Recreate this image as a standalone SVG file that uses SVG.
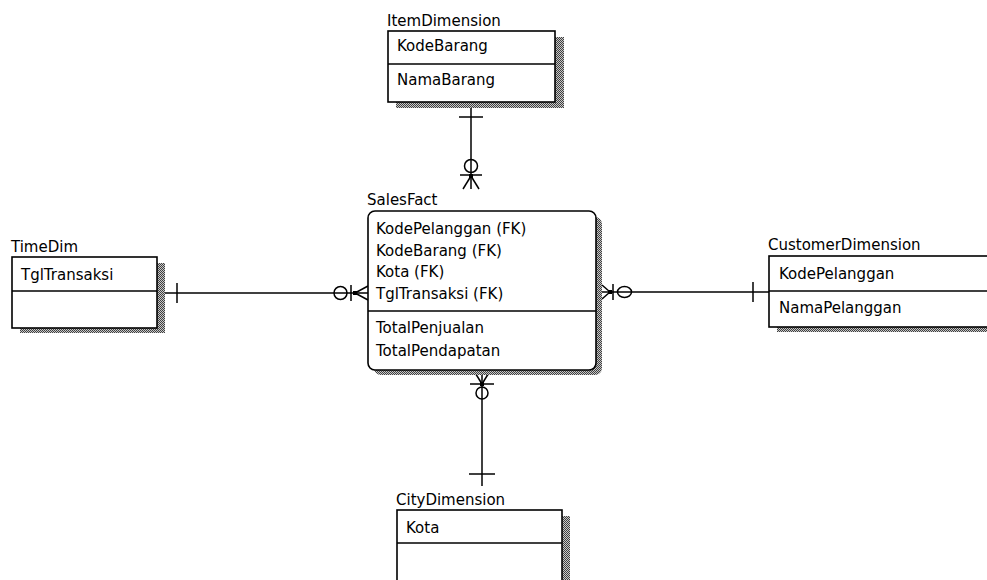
<svg xmlns="http://www.w3.org/2000/svg" width="987" height="580" viewBox="0 0 987 580">
<defs>
<pattern id="hatch" width="2" height="2" patternUnits="userSpaceOnUse">
<rect width="2" height="2" fill="#c8c8c8"/>
<rect width="1" height="1" fill="#404040"/>
<rect x="1" y="1" width="1" height="1" fill="#404040"/>
</pattern>
</defs>
<style>
.bg{fill:#fff}
.box{fill:#fff;stroke:#000;stroke-width:1.6}
.sh{fill:url(#hatch);stroke:none}
.div{stroke:#000;stroke-width:1.6}
.t{font-family:"DejaVu Sans",sans-serif;font-size:15px;fill:#000}
.c{fill:none;stroke:#000;stroke-width:1.5}
.dot{fill:#000}
</style>
<rect class="bg" x="0" y="0" width="987" height="580"/>

<g id="connectors">
<!-- ItemDimension to SalesFact -->
<g id="c-item">
<line class="c" x1="471" y1="102" x2="471" y2="189"/>
<line class="c" x1="459" y1="117" x2="483" y2="117"/>
<circle class="c" cx="471" cy="166" r="6.5"/>
<line class="c" x1="460" y1="175" x2="482" y2="175"/>
<rect class="dot" x="469" y="174" width="4" height="4"/>
<line class="c" x1="471" y1="176" x2="463" y2="189"/>
<line class="c" x1="471" y1="176" x2="479" y2="189"/>
</g>
<!-- TimeDim to SalesFact -->
<g id="c-time">
<line class="c" x1="157" y1="293" x2="368" y2="293"/>
<line class="c" x1="177" y1="283" x2="177" y2="303"/>
<ellipse class="c" cx="340.5" cy="293" rx="6.5" ry="6.5"/>
<line class="c" x1="351" y1="285" x2="351" y2="301"/>
<rect class="dot" x="353" y="291" width="4" height="4"/>
<line class="c" x1="355" y1="293" x2="368" y2="286"/>
<line class="c" x1="355" y1="293" x2="368" y2="300"/>
</g>
<!-- SalesFact to CustomerDimension -->
<g id="c-customer">
<line class="c" x1="602" y1="292" x2="769" y2="292"/>
<line class="c" x1="602" y1="285" x2="610" y2="292"/>
<line class="c" x1="602" y1="299" x2="610" y2="292"/>
<rect class="dot" x="608" y="290" width="4" height="4"/>
<line class="c" x1="613" y1="284" x2="613" y2="300"/>
<ellipse class="c" cx="624.5" cy="292" rx="7" ry="5.5"/>
<line class="c" x1="753" y1="282" x2="753" y2="302"/>
</g>
<!-- SalesFact to CityDimension -->
<g id="c-city">
<line class="c" x1="482" y1="371" x2="482" y2="486"/>
<line class="c" x1="474" y1="371" x2="482" y2="384"/>
<line class="c" x1="490" y1="371" x2="482" y2="384"/>
<rect class="dot" x="480" y="382" width="4" height="4"/>
<line class="c" x1="470" y1="384" x2="494" y2="384"/>
<circle class="c" cx="482" cy="393" r="6"/>
<line class="c" x1="469" y1="474" x2="495" y2="474"/>
</g>
</g>

<g id="ItemDimension">
<rect class="sh" x="396" y="37" width="168" height="71"/>
<rect class="box" x="388" y="31" width="167" height="71"/>
<line class="div" x1="388" y1="64" x2="555" y2="64"/>
<text class="t" x="387" y="26">ItemDimension</text>
<text class="t" x="397" y="51">KodeBarang</text>
<text class="t" x="397" y="85">NamaBarang</text>
</g>

<g id="SalesFact">
<rect class="sh" x="374" y="217" width="228" height="158" rx="7"/>
<rect class="box" x="368" y="211" width="228" height="159" rx="7"/>
<line class="div" x1="368" y1="311" x2="596" y2="311"/>
<text class="t" x="367" y="205">SalesFact</text>
<text class="t" x="376" y="234">KodePelanggan (FK)</text>
<text class="t" x="376" y="256">KodeBarang (FK)</text>
<text class="t" x="376" y="277">Kota (FK)</text>
<text class="t" x="376" y="299">TglTransaksi (FK)</text>
<text class="t" x="376" y="333">TotalPenjualan</text>
<text class="t" x="376" y="356">TotalPendapatan</text>
</g>

<g id="TimeDim">
<rect class="sh" x="20" y="263" width="145" height="70"/>
<rect class="box" x="12" y="257" width="145" height="71"/>
<line class="div" x1="12" y1="291" x2="157" y2="291"/>
<text class="t" x="11" y="252">TimeDim</text>
<text class="t" x="21" y="280">TglTransaksi</text>
</g>

<g id="CustomerDimension">
<rect class="sh" x="777" y="262" width="230" height="70"/>
<rect class="box" x="769" y="256" width="230" height="71"/>
<line class="div" x1="769" y1="291" x2="999" y2="291"/>
<text class="t" x="768" y="250">CustomerDimension</text>
<text class="t" x="779" y="279">KodePelanggan</text>
<text class="t" x="779" y="313">NamaPelanggan</text>
</g>

<g id="CityDimension">
<rect class="sh" x="405" y="516" width="165" height="80"/>
<rect class="box" x="397" y="510" width="165" height="90"/>
<line class="div" x1="397" y1="543" x2="562" y2="543"/>
<text class="t" x="396" y="505">CityDimension</text>
<text class="t" x="406" y="533">Kota</text>
</g>
</svg>
